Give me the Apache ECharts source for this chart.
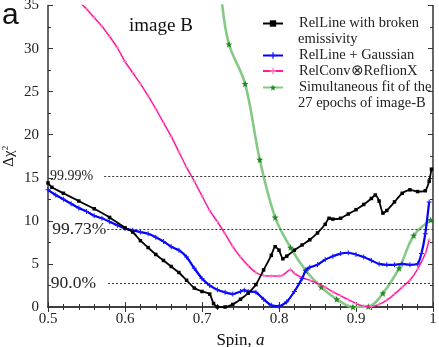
<!DOCTYPE html>
<html>
<head>
<meta charset="utf-8">
<script src="https://cdn.jsdelivr.net/npm/echarts@6/dist/echarts.min.js"></script>
<style>
html, body { margin: 0; padding: 0; background: #fff; }
#chart { width: 439px; height: 347px; }
</style>
</head>
<body>
<div id="chart"></div>
<script>
// data (spin a, delta chi^2)
var names = ['RelLine with broken emissivity', 'RelLine + Gaussian', 'RelConv\u2297ReflionX', 'Simultaneous fit of the 27 epochs of image-B'];

var brokenSpin = [0.500, 0.505, 0.52, 0.54, 0.56, 0.58, 0.60, 0.61, 0.62, 0.63, 0.64, 0.65, 0.66, 0.67, 0.68, 0.69, 0.70, 0.71, 0.715, 0.72, 0.73, 0.74, 0.75, 0.76, 0.77, 0.78, 0.79, 0.795, 0.80, 0.805, 0.81, 0.82, 0.83, 0.84, 0.85, 0.86, 0.865, 0.87, 0.88, 0.89, 0.90, 0.91, 0.92, 0.925, 0.93, 0.935, 0.94, 0.95, 0.96, 0.97, 0.98, 0.99, 0.995, 0.998];
var brokenChi = [14.4, 13.9, 13.2, 12.3, 11.4, 10.4, 9.2, 8.7, 7.7, 6.9, 6.1, 5.4, 4.7, 4.0, 3.1, 2.2, 1.8, 1.5, 0.4, 0.0, 0.0, 0.3, 0.9, 1.6, 2.6, 4.3, 6.0, 7.0, 6.6, 5.6, 5.9, 6.6, 7.2, 7.8, 8.6, 9.6, 10.3, 10.2, 10.3, 10.8, 11.3, 11.9, 12.6, 13.0, 12.3, 10.9, 11.2, 12.2, 13.2, 13.6, 13.4, 13.5, 14.6, 16.0];

var gaussSpin = [0.50, 0.51, 0.52, 0.53, 0.54, 0.55, 0.56, 0.57, 0.58, 0.59, 0.60, 0.61, 0.62, 0.63, 0.64, 0.65, 0.66, 0.67, 0.68, 0.69, 0.70, 0.71, 0.72, 0.73, 0.74, 0.75, 0.755, 0.76, 0.77, 0.78, 0.79, 0.80, 0.81, 0.82, 0.83, 0.835, 0.84, 0.85, 0.86, 0.87, 0.88, 0.89, 0.90, 0.91, 0.92, 0.93, 0.94, 0.95, 0.96, 0.97, 0.98, 0.985, 0.99, 0.995];
var gaussChi = [13.6, 13.0, 12.5, 12.0, 11.5, 11.1, 10.6, 10.3, 9.9, 9.5, 9.1, 8.9, 8.7, 8.5, 8.1, 7.6, 7.0, 6.6, 5.8, 4.5, 3.3, 2.5, 2.0, 1.7, 1.5, 1.8, 1.95, 1.8, 1.7, 0.9, 0.2, 0.1, 0.6, 1.8, 3.3, 4.3, 4.6, 4.9, 5.5, 5.9, 6.2, 6.3, 6.1, 5.8, 5.4, 5.0, 4.9, 4.9, 5.0, 4.9, 5.0, 6.2, 8.5, 12.2];

var reflSpin = [0.54, 0.55, 0.56, 0.57, 0.58, 0.59, 0.60, 0.61, 0.62, 0.63, 0.64, 0.65, 0.66, 0.67, 0.68, 0.69, 0.70, 0.71, 0.72, 0.73, 0.74, 0.75, 0.76, 0.77, 0.78, 0.79, 0.80, 0.805, 0.815, 0.82, 0.83, 0.84, 0.85, 0.86, 0.87, 0.88, 0.89, 0.90, 0.91, 0.92, 0.93, 0.94, 0.95, 0.96, 0.97, 0.98, 0.99, 0.995];
var reflChi = [35.5, 34.6, 33.6, 32.6, 31.4, 30.1, 28.5, 27.2, 25.9, 24.5, 23.0, 21.4, 19.8, 18.0, 16.2, 14.6, 12.9, 11.2, 9.9, 8.5, 7.0, 5.8, 4.8, 4.0, 3.65, 3.6, 3.6, 3.7, 4.35, 3.9, 3.4, 3.1, 2.75, 2.3, 1.75, 1.3, 0.85, 0.4, 0.1, 0.05, 0.3, 0.8, 1.5, 2.3, 3.1, 4.4, 6.2, 7.8];

var simSpin = [0.726, 0.735, 0.756, 0.775, 0.795, 0.815, 0.835, 0.855, 0.875, 0.896, 0.916, 0.935, 0.956, 0.975, 0.997];
var simChi = [35.3, 30.5, 25.9, 17.1, 10.4, 6.9, 4.2, 2.3, 0.9, 0.0, 0.05, 1.6, 4.5, 8.3, 10.1];

var levelNames = ['99.99%', '99.73%', '90.0%'];
var levelChi = [15.13, 9.0, 2.71];
var levelStart = [0.573, 0.577, 0.578];

function pairs(xs, ys) {
    return xs.map(function (x, i) { return [x, ys[i]]; });
}

var serif = 'Liberation Serif';
var star = 'path://M0,-10L2.35,-3.24L9.51,-3.09L3.8,1.24L5.88,8.09L0,4L-5.88,8.09L-3.8,1.24L-9.51,-3.09L-2.35,-3.24Z';
var plus = 'path://M-1,-5H1V-1H5V1H1V5H-1V1H-5V-1H-1Z';

var simData = pairs(simSpin, simChi);
simData[0] = { value: simData[0], symbol: 'none' };

var levelStyles = [
    { size: 14, dist: 11, pad: [0, 0, 8, 0] },
    { size: 17.5, dist: 1, pad: [10, 0, 0, 0] },
    { size: 17.5, dist: 12, pad: [0, 0, 10, 0] }
];
var levelLines = levelChi.map(function (v, i) {
    return [{
        coord: [levelStart[i], v],
        label: {
            show: true, position: 'start', formatter: levelNames[i],
            fontFamily: serif, fontSize: levelStyles[i].size, color: '#222',
            distance: levelStyles[i].dist, padding: levelStyles[i].pad
        }
    }, { coord: [1, v] }];
});

function legendAt(name, top, text) {
    return {
        data: [name], left: 262, top: top, padding: 0,
        itemWidth: 20, itemHeight: 8,
        formatter: function () { return text; },
        textStyle: { fontFamily: serif, fontSize: 14.5, color: '#222', padding: [0, 0, 0, 11] }
    };
}

var axisCommon = {
    type: 'value',
    axisLine: { show: true, lineStyle: { color: '#333', width: 1.5 } },
    splitLine: { show: false }
};

var myChart = echarts.init(document.getElementById('chart'));
myChart.setOption({
    animation: false,
    backgroundColor: '#fff',
    grid: { left: 48, right: 6, top: 5.5, bottom: 40, outerBoundsMode: 'none', containLabel: false },
    legend: [
        legendAt(names[0], 16, 'RelLine with broken'),
        legendAt(names[1], 48, 'RelLine + Gaussian'),
        legendAt(names[2], 63.5, 'RelConv\u2297ReflionX'),
        legendAt(names[3], 80, 'Simultaneous fit of the')
    ],
    graphic: [
        { type: 'text', left: 2, top: 1, style: { text: 'a', font: '30px "Liberation Sans"', fill: '#111' } },
        { type: 'text', left: 129, top: 17, style: { text: 'image B', font: '19px "Liberation Serif"', fill: '#111' } },
        { type: 'text', left: 298, top: 32, style: { text: 'emissivity', font: '14.5px "Liberation Serif"', fill: '#222' } },
        { type: 'text', left: 298, top: 96, style: { text: '27 epochs of image-B', font: '14.5px "Liberation Serif"', fill: '#222' } }
    ],
    xAxis: [
        Object.assign({}, axisCommon, {
            min: 0.5, max: 1, interval: 0.1,
            name: 'Spin, {i|a}', nameLocation: 'middle', nameGap: 24,
            nameTextStyle: { fontFamily: serif, fontSize: 17, color: '#111', rich: { i: { fontFamily: serif, fontSize: 17, fontStyle: 'italic', color: '#111' } } },
            axisTick: { inside: true, length: 5, lineStyle: { color: '#333' } },
            minorTick: { show: true, splitNumber: 5, length: 3, lineStyle: { color: '#333' } },
            axisLabel: {
                fontFamily: serif, fontSize: 15, color: '#222', margin: 5,
                formatter: function (v) { return v === 1 ? '1' : v.toFixed(1); }
            }
        }),
        Object.assign({}, axisCommon, {
            position: 'top', min: 0.5, max: 1, interval: 0.1,
            axisTick: { inside: true, length: 5, lineStyle: { color: '#333' } },
            minorTick: { show: true, splitNumber: 5, length: 3, lineStyle: { color: '#333' } },
            axisLabel: { show: false }
        })
    ],
    yAxis: [
        Object.assign({}, axisCommon, {
            min: 0, max: 35, interval: 5,
            name: '\u0394\u03c7{s|2}', nameLocation: 'middle', nameRotate: 90, nameGap: 30,
            nameMoveOverlap: false,
            nameTextStyle: { fontFamily: serif, fontSize: 15, color: '#111', rich: { s: { fontFamily: serif, fontSize: 9, color: '#111', padding: [0, 0, 8, 0] } } },
            axisTick: { inside: true, length: 5, lineStyle: { color: '#333' } },
            minorTick: { show: true, splitNumber: 2, length: 3, lineStyle: { color: '#333' } },
            axisLabel: { fontFamily: serif, fontSize: 15, color: '#222', margin: 9 }
        }),
        Object.assign({}, axisCommon, {
            position: 'right', min: 0, max: 35, interval: 5,
            axisTick: { inside: true, length: 5, lineStyle: { color: '#333' } },
            minorTick: { show: true, splitNumber: 2, length: 3, lineStyle: { color: '#333' } },
            axisLabel: { show: false }
        })
    ],
    series: [
        {
            name: names[3], type: 'line', data: simData, z: 2,
            smooth: 0.35, showAllSymbol: true,
            symbol: star, symbolSize: 7,
            itemStyle: { color: '#1f8a1f' },
            lineStyle: { color: '#86c986', width: 2.6 }
        },
        {
            name: names[2], type: 'line', data: pairs(reflSpin, reflChi), z: 3,
            smooth: 0.2, showAllSymbol: true,
            symbol: plus, symbolSize: 4,
            itemStyle: { color: '#ff7fc0' },
            lineStyle: { color: '#ff1aa0', width: 1.5 }
        },
        {
            name: names[1], type: 'line', data: pairs(gaussSpin, gaussChi), z: 4,
            smooth: 0.2, showAllSymbol: true,
            symbol: plus, symbolSize: 5,
            itemStyle: { color: '#1a1aff' },
            lineStyle: { color: '#0000ff', width: 2.2 }
        },
        {
            name: names[0], type: 'line', data: pairs(brokenSpin, brokenChi), z: 5,
            smooth: 0.2, showAllSymbol: true,
            symbol: 'rect', symbolSize: 3.5,
            itemStyle: { color: '#000' },
            lineStyle: { color: '#000', width: 1.8 },
            markLine: {
                silent: true, symbol: 'none',
                lineStyle: { type: [2, 2], color: '#333', width: 1.2 },
                data: levelLines
            }
        }
    ]
});
</script>
</body>
</html>
